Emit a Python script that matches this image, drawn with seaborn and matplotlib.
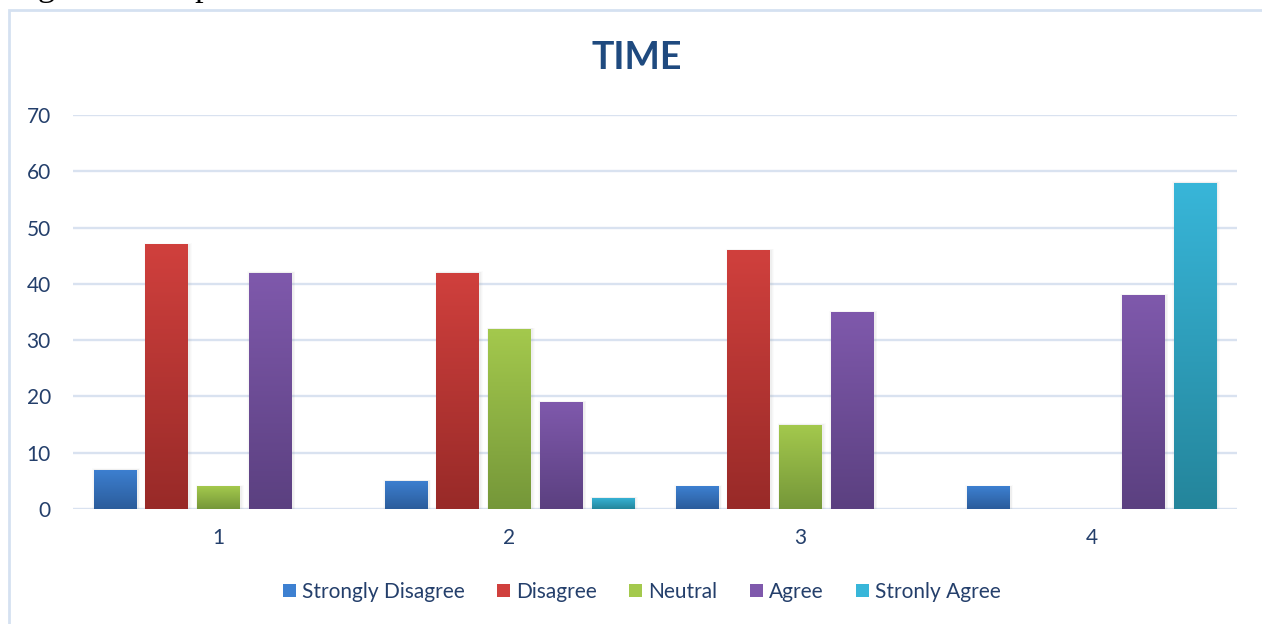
import numpy as np
import pandas as pd
import matplotlib
matplotlib.use("Agg")
import matplotlib.pyplot as plt
import seaborn as sns
from matplotlib.patches import Rectangle, Patch
from matplotlib.colors import LinearSegmentedColormap

# ---- data -------------------------------------------------------------
items = ["1", "2", "3", "4"]
responses = ["Strongly Disagree", "Disagree", "Neutral", "Agree", "Stronly Agree"]
strongly_disagree = [7, 5, 4, 4]
disagree = [47, 42, 46, 0]
neutral = [4, 32, 15, 0]
agree = [42, 19, 35, 38]
strongly_agree = [0, 2, 0, 58]
y_ticks = [0, 10, 20, 30, 40, 50, 60, 70]

# gradient (top, bottom) per response
top_colors = ["#3D80D1", "#D0403D", "#A4C94D", "#7F59AC", "#38B6D9"]
bottom_colors = ["#2B5C9B", "#982A28", "#759739", "#5B4080", "#24859B"]

df = pd.DataFrame({
    "Item": np.repeat(items, len(responses)),
    "Response": responses * len(items),
    "Count": np.array([strongly_disagree, disagree, neutral, agree, strongly_agree]).T.ravel(),
})

# ---- figure -------------------------------------------------------------
sns.set_theme(style="white")
plt.rcParams["font.family"] = ["Lato", "DejaVu Sans"]
text_blue = "#243F6B"
grid_color = "#D9E2F0"

W, H = 1262, 624
fig = plt.figure(figsize=(W / 100, H / 100), dpi=100, facecolor="white")
ax = fig.add_axes([73 / W, 1 - 509 / H, (1237 - 73) / W, (509 - 115) / H])

palette = dict(zip(responses, top_colors))
sns.barplot(data=df, x="Item", y="Count", hue="Response", hue_order=responses,
            order=items, palette=palette, width=0.889, gap=0.17,
            ax=ax, legend=False, zorder=3)

ax.set_ylim(0, 70)
ax.set_yticks(y_ticks)
ax.set_xlabel("")
ax.set_ylabel("")
for s in ax.spines.values():
    s.set_visible(False)
ax.grid(False)
for t in y_ticks:
    ax.axhline(t, color=grid_color, lw=1.7, zorder=1)
ax.tick_params(axis="both", length=0, labelsize=15, labelcolor=text_blue)
ax.tick_params(axis="y", pad=16)
ax.tick_params(axis="x", pad=14)

# gradient fill + soft shadow for every bar
grad = np.linspace(0, 1, 256).reshape(-1, 1)
for container, c_top, c_bot in zip(ax.containers, top_colors, bottom_colors):
    cmap = LinearSegmentedColormap.from_list("g", [c_bot, c_top])
    for bar in container:
        h = bar.get_height()
        if h <= 0:
            bar.set_visible(False)
            continue
        x0, w = bar.get_x(), bar.get_width()
        for k, a in enumerate([0.05, 0.04, 0.03]):
            d = 0.006 * (k + 1)
            ax.add_patch(Rectangle((x0 + 0.004 - d / 2, -0.3), w + d, h + 0.3 + d * 12,
                                   facecolor="#808080", alpha=a, lw=0, zorder=2))
        bar.set_facecolor("none")
        bar.set_edgecolor("none")
        im = ax.imshow(grad, cmap=cmap, aspect="auto", origin="lower",
                       extent=(x0, x0 + w, 0, h), zorder=3.5)
        im.set_clip_path(bar)
ax.set_xlim(-0.5, 3.5)
ax.set_ylim(0, 70)

# title
fig.text(637 / W, 1 - 58 / H, "TIME", ha="center", va="center",
         fontsize=27, fontweight="bold", color="#1F4A7F")

# legend
handles = [Patch(facecolor=c, edgecolor="none") for c in top_colors]
fig.legend(handles, responses, loc="center", bbox_to_anchor=(642 / W, 1 - 592 / H),
           ncol=5, frameon=False, fontsize=15, labelcolor=text_blue,
           handlelength=0.62, handleheight=0.62, handletextpad=0.3,
           columnspacing=1.55)

# outer chart frame
fig.patches.append(Rectangle((9 / W, -0.05), 1.2, 1.05 - 10 / H, transform=fig.transFigure,
                             facecolor="none", edgecolor="#D5E1F1", lw=2, zorder=0))

# caption line above the chart
fig.text(9 / W, 1 + 4 / H, "Figure 3: Response rate of Time.", ha="left", va="baseline",
         fontsize=24.8, color="black", family=["Liberation Serif", "DejaVu Serif"])

fig.savefig("out.png", dpi=100, facecolor="white")
